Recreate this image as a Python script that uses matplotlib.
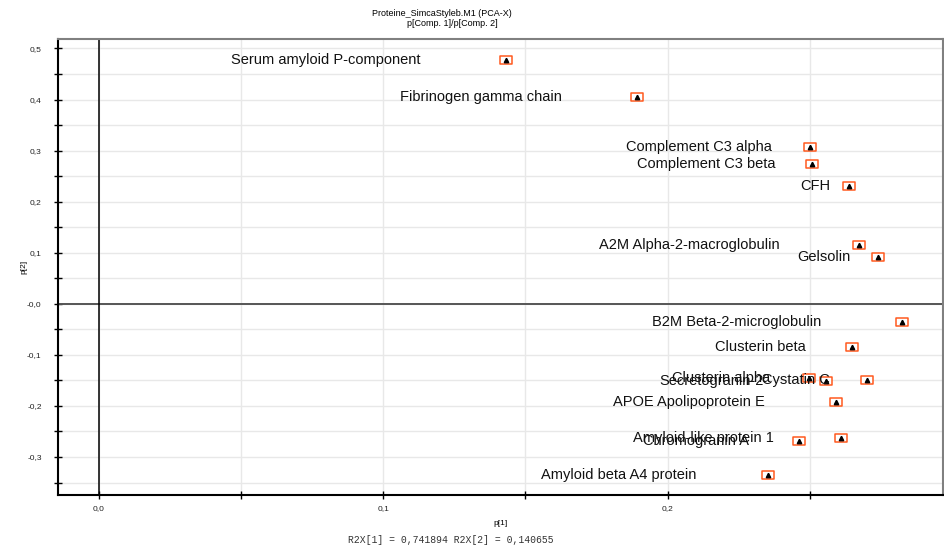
import numpy as np
import matplotlib
matplotlib.use('Agg')
import matplotlib.pyplot as plt
from matplotlib.path import Path

# loadings p[1], p[2]
proteins = ['Serum amyloid P-component', 'Fibrinogen gamma chain',
            'Complement C3 alpha', 'Complement C3 beta', 'CFH',
            'A2M Alpha-2-macroglobulin', 'Gelsolin',
            'B2M Beta-2-microglobulin', 'Clusterin beta', 'Clusterin alpha',
            'Secretogranin-2', 'Cystatin C', 'APOE Apolipoprotein E',
            'Amyloid-like protein 1', 'Chromogranin A', 'Amyloid beta A4 protein']
p1 = [0.1432, 0.1892, 0.2502, 0.2509, 0.2637, 0.2673, 0.2742,
      0.2824, 0.2649, 0.2497, 0.2558, 0.2702, 0.2592,
      0.2609, 0.2461, 0.2355]
p2 = [0.477, 0.405, 0.307, 0.2745, 0.2306, 0.1149, 0.0914,
      -0.036, -0.0843, -0.145, -0.152, -0.149, -0.1916,
      -0.2622, -0.2694, -0.336]

xticks = [0.0, 0.1, 0.2]
xticklabels = ['0,0', '0,1', '0,2']
yticks = [0.5, 0.4, 0.3, 0.2, 0.1, 0.0, -0.1, -0.2, -0.3]
yticklabels = ['0,5', '0,4', '0,3', '0,2', '0,1', '-0,0', '-0,1', '-0,2', '-0,3']

title1 = 'Proteine_SimcaStyleb.M1 (PCA-X)'
title2 = 'p[Comp. 1]/p[Comp. 2]'
footer = 'R2X[1] = 0,741894 R2X[2] = 0,140655'

# label placement: right end of text, pixels left of marker (layout only)
label_dx = [-86, -75, -38, -37, -18, -79, -28, -80, -46, -39, -62, -37, -71, -67, -50, -72]

plt.rcParams['font.family'] = ['Liberation Sans', 'DejaVu Sans']

fig = plt.figure(figsize=(9.44, 5.49), dpi=100)
ax = fig.add_axes([0.0618, 0.0978, 0.9368, 0.8312])

ax.set_xlim(-0.0143, 0.2968)
ax.set_ylim(-0.375, 0.5186)

ax.set_xticks(xticks)
ax.set_xticklabels(xticklabels)
ax.set_xticks(np.arange(0.05, 0.30, 0.1), minor=True)
ax.set_yticks(yticks)
ax.set_yticklabels(yticklabels)
ax.set_yticks(np.arange(-0.35, 0.5, 0.1), minor=True)

ax.grid(True, which='both', color='#e8e8e8', lw=1.0, zorder=0)
ax.tick_params(which='both', direction='inout', length=6, width=1, color='black',
               labelsize=6, labelcolor='#222222')
ax.tick_params(axis='y', pad=9)
ax.tick_params(axis='x', pad=4)

for s in ['left', 'bottom']:
    ax.spines[s].set_color('black')
    ax.spines[s].set_linewidth(1.5)
for s in ['top', 'right']:
    ax.spines[s].set_color('#808080')
    ax.spines[s].set_linewidth(1.5)

ax.axhline(0, color='#555555', lw=1.4, zorder=2)
ax.axvline(0, color='black', lw=1.1, zorder=2)

box = Path([(-0.75, -0.5), (0.75, -0.5), (0.75, 0.5), (-0.75, 0.5), (-0.75, -0.5)],
           [Path.MOVETO, Path.LINETO, Path.LINETO, Path.LINETO, Path.CLOSEPOLY])
ax.plot(p1, p2, ls='none', marker=box, ms=8.5, mfc='white', mec='#ff5a1f',
        mew=1.1, zorder=3)
ax.plot(p1, p2, ls='none', marker='^', ms=3.2, color='black', zorder=4)

for name, x, y, dx in zip(proteins, p1, p2, label_dx):
    ax.annotate(name, (x, y), xytext=(dx, 0), textcoords='offset pixels',
                ha='right', va='center', fontsize=10.5, color='#111111', zorder=5)

fig.text(0.468, 0.976, title1, ha='center', va='center', fontsize=6.5)
fig.text(0.479, 0.958, title2, ha='center', va='center', fontsize=6.5)
ax.set_xlabel('p[1]', fontsize=6, labelpad=6)
ax.set_ylabel('p[2]', fontsize=6, labelpad=0)
fig.text(0.478, 0.007, footer, ha='center', va='bottom', fontsize=7,
         family='Liberation Mono', color='#333333')

plt.savefig('out.png', dpi=100)
